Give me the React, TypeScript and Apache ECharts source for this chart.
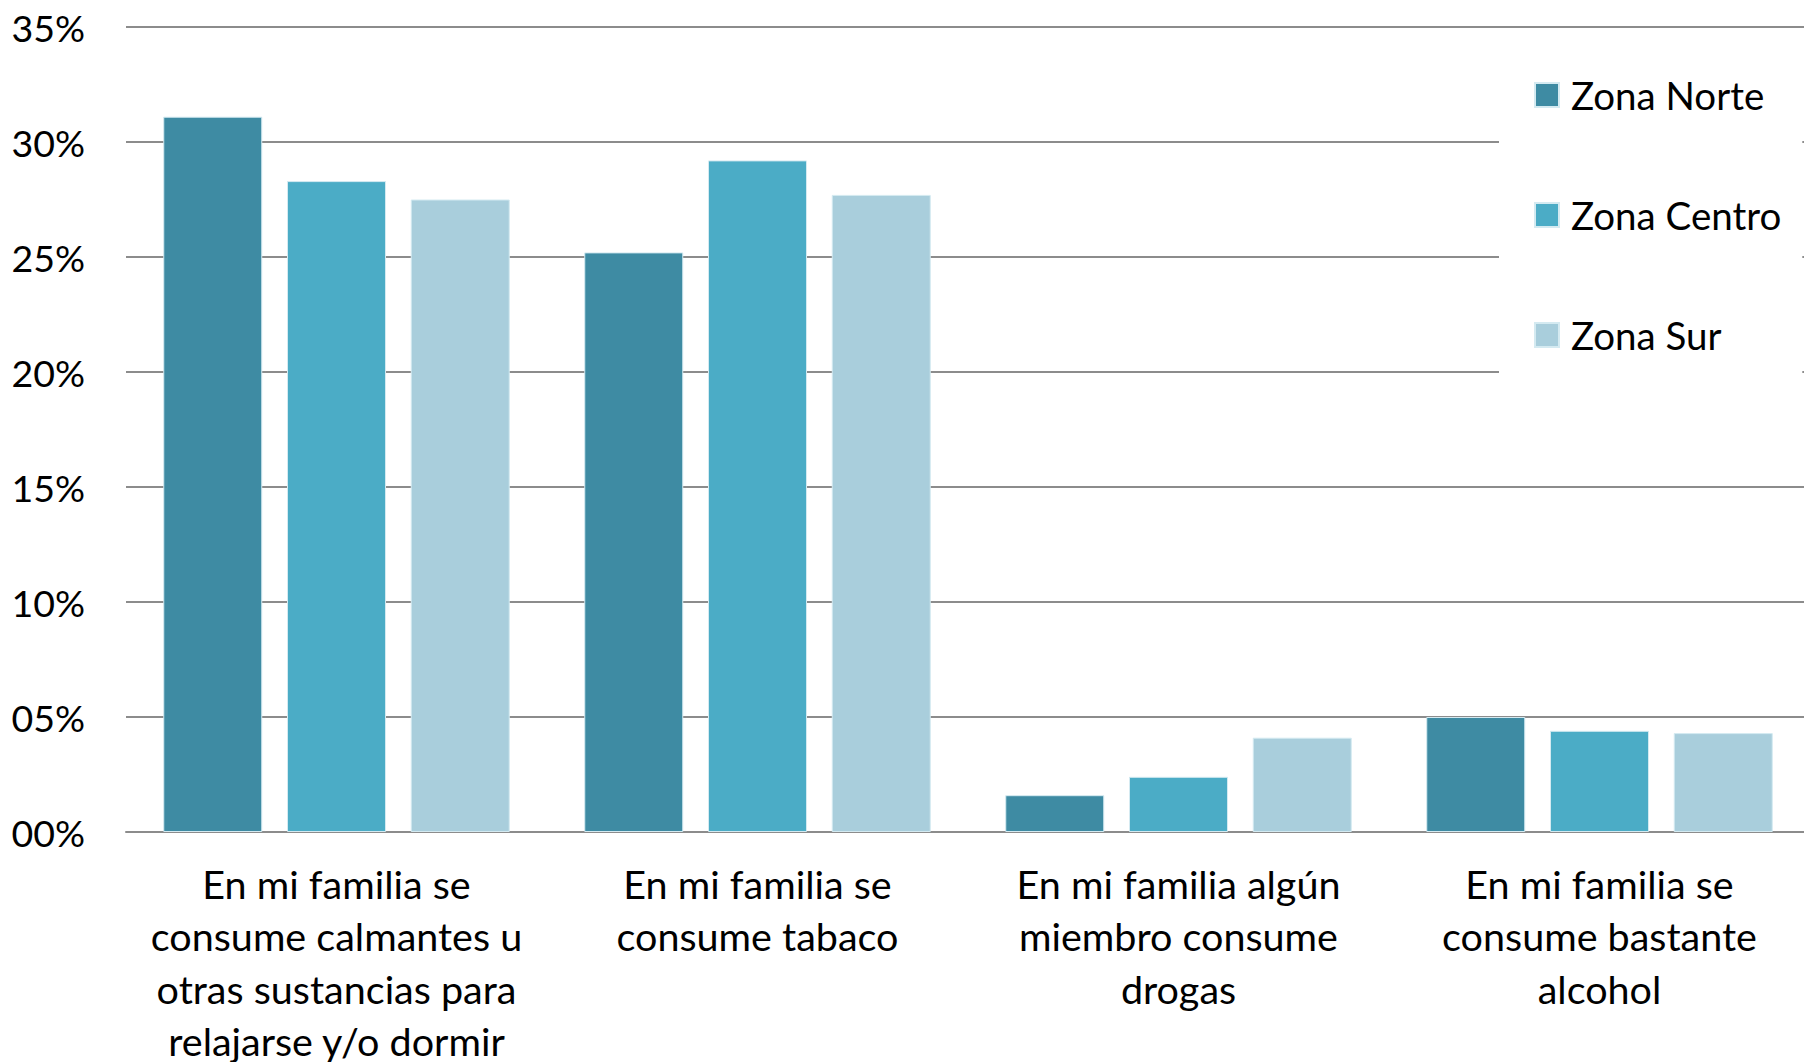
import React, { useEffect, useRef } from "react";
import * as echarts from "echarts";

const categories = [
  "En mi familia se\nconsume calmantes u\notras sustancias para\nrelajarse y/o dormir",
  "En mi familia se\nconsume tabaco",
  "En mi familia algún\nmiembro consume\ndrogas",
  "En mi familia se\nconsume bastante\nalcohol",
];
const seriesNames = ["Zona Norte", "Zona Centro", "Zona Sur"];
const norte = [31.1, 25.2, 1.6, 5.0];
const centro = [28.3, 29.2, 2.4, 4.4];
const sur = [27.5, 27.7, 4.1, 4.3];
const colors = ["#3E8BA3", "#4BACC6", "#A9CEDC"];
const yMin = 0;
const yMax = 35;
const yStep = 5;

export default function App() {
  const ref = useRef<HTMLDivElement>(null);
  useEffect(() => {
    if (!ref.current) return;
    const chart = echarts.init(ref.current, undefined, { renderer: "svg" });
    const font = "Lato, 'Noto Sans', sans-serif";
    const values = [norte, centro, sur];
    chart.setOption({
      animation: false,
      backgroundColor: "#ffffff",
      grid: {
        left: 126,
        top: 27,
        width: 1684,
        height: 805,
        containLabel: false,
        outerBoundsMode: "none",
      },
      legend: {
        orient: "vertical",
        left: 1499,
        top: 43,
        backgroundColor: "#ffffff",
        padding: [32, 21, 32, 35],
        itemWidth: 24,
        itemHeight: 24,
        itemGap: 80,
        icon: "rect",
        data: seriesNames,
        textStyle: {
          fontFamily: font,
          fontSize: 38.5,
          lineHeight: 40,
          color: "#000000",
          padding: [0, 0, 0, 7],
        },
      },
      xAxis: {
        type: "category",
        data: categories,
        axisLine: { show: true, lineStyle: { color: "#8c8c8c", width: 2 } },
        axisTick: { show: false },
        axisLabel: {
          interval: 0,
          margin: 25,
          fontFamily: font,
          fontSize: 39.5,
          lineHeight: 52.5,
          color: "#000000",
          align: "center",
        },
      },
      yAxis: {
        type: "value",
        min: yMin,
        max: yMax,
        interval: yStep,
        axisLine: { show: false },
        axisTick: { show: false },
        splitLine: { show: true, lineStyle: { color: "#8c8c8c", width: 2 } },
        axisLabel: {
          margin: 41,
          fontFamily: font,
          fontSize: 37.5,
          color: "#000000",
          formatter: (v: number) => String(Math.round(v)).padStart(2, "0") + "%",
        },
      },
      series: seriesNames.map((name, i) => ({
        name,
        type: "bar",
        data: values[i],
        barWidth: 99,
        barGap: "25%",
        itemStyle: { color: colors[i], borderColor: "#d4eaf1", borderWidth: 1 },
      })),
    });
    return () => chart.dispose();
  }, []);
  return (
    <div
      ref={ref}
      style={{ position: "fixed", left: 0, top: 0, width: 1804, height: 1062 }}
    />
  );
}
